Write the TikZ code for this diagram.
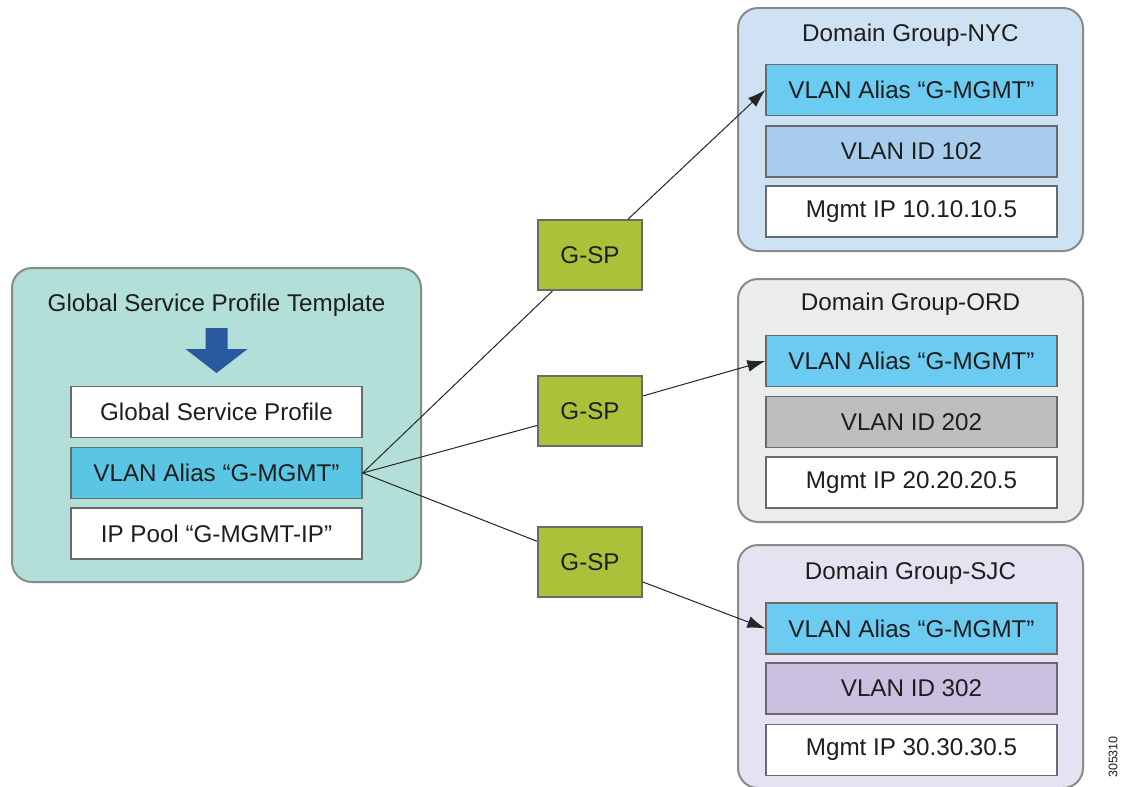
\documentclass[tikz,border=0pt]{standalone}
\usepackage{fontspec}
\setmainfont{Liberation Sans}
\usetikzlibrary{arrows.meta}
\definecolor{txt}{HTML}{1E1E1E}
\definecolor{leftbg}{HTML}{B2DFD7}
\definecolor{aliasL}{HTML}{5BC6E4}
\definecolor{aliasR}{HTML}{6CCBF1}
\definecolor{nycbg}{HTML}{CFE2F3}
\definecolor{nycid}{HTML}{A8CDEC}
\definecolor{ordbg}{HTML}{EBECEC}
\definecolor{ordid}{HTML}{BEBEBE}
\definecolor{sjcbg}{HTML}{E7E2F1}
\definecolor{sjcid}{HTML}{CAC1E1}
\definecolor{gsp}{HTML}{A9C23A}
\definecolor{darrow}{HTML}{2A5A9E}
\definecolor{bord}{HTML}{8A8A8A}
\definecolor{ibord}{HTML}{6A6A6A}
\tikzset{
  bigbox/.style={draw=bord, line width=2pt, rounded corners=20pt, inner sep=0pt},
  inbox/.style={draw=ibord, line width=1.3pt, minimum width=291pt, minimum height=51pt, inner sep=0pt, font=\fontsize{24.2}{27}\selectfont, text=txt},
  gspbox/.style={draw=ibord, line width=1.3pt, fill=gsp, minimum width=104pt, minimum height=70pt, inner sep=0pt, font=\fontsize{24.2}{27}\selectfont, text=txt},
  ttl/.style={font=\fontsize{24.2}{27}\selectfont, text=txt, inner sep=0pt},
  conn/.style={draw=black!85, line width=1pt},
  arr/.style={conn, -{Latex[length=18pt,width=12pt]}}
}
\begin{document}
\begin{tikzpicture}[x=1pt,y=-1pt]
\useasboundingbox (0,0) rectangle (1138,787);
\fill[white] (0,0) rectangle (1138,787);
% left group
\node[bigbox, fill=leftbg, minimum width=409pt, minimum height=314pt] (left) at (216.5,425) {};
\node[ttl] (lt) at (216.5,305) {Global Service Profile Template};
\fill[darrow] (205.5,328) -- (227.5,328) -- (227.5,349) -- (247.5,349) -- (216.5,373) -- (185.5,349) -- (205.5,349) -- cycle;
\node[inbox, fill=white] (gsp) at (216.5,412) {Global Service Profile};
\node[inbox, fill=aliasL] (va) at (216.5,473) {VLAN Alias “G-MGMT”};
\node[inbox, fill=white] (ip) at (216.5,533.5) {IP Pool “G-MGMT-IP”};
% NYC
\node[bigbox, fill=nycbg, minimum width=345pt, minimum height=243pt] (nyc) at (910.5,129.5) {};
\node[ttl] (nyct) at (910.5,35) {Domain Group-NYC};
\node[inbox, fill=aliasR] (nyca) at (911.5,90) {VLAN Alias “G-MGMT”};
\node[inbox, fill=nycid] (nyci) at (911.5,151.5) {VLAN ID 102};
\node[inbox, fill=white] (nycm) at (911.5,211.5) {Mgmt IP 10.10.10.5};
% ORD
\node[bigbox, fill=ordbg, minimum width=345pt, minimum height=243pt] (ord) at (910.5,400.5) {};
\node[ttl] (ordt) at (910.5,304) {Domain Group-ORD};
\node[inbox, fill=aliasR] (orda) at (911.5,361) {VLAN Alias “G-MGMT”};
\node[inbox, fill=ordid] (ordi) at (911.5,422) {VLAN ID 202};
\node[inbox, fill=white] (ordm) at (911.5,482.5) {Mgmt IP 20.20.20.5};
% SJC
\node[bigbox, fill=sjcbg, minimum width=345pt, minimum height=243pt] (sjc) at (910.5,666.5) {};
\node[ttl] (sjct) at (910.5,573) {Domain Group-SJC};
\node[inbox, fill=aliasR] (sjca) at (911.5,628.5) {VLAN Alias “G-MGMT”};
\node[inbox, fill=sjcid] (sjci) at (911.5,688.5) {VLAN ID 302};
\node[inbox, fill=white] (sjcm) at (911.5,750) {Mgmt IP 30.30.30.5};
% connectors
\coordinate (src) at (va.east);
\draw[conn] (src) -- (590,255);
\draw[conn] (src) -- (590,411);
\draw[conn] (src) -- (590,562);
\node[gspbox] (g1) at (590,255) {G-SP};
\node[gspbox] (g2) at (590,411) {G-SP};
\node[gspbox] (g3) at (590,562) {G-SP};
\draw[arr] (g1) -- (nyca.west);
\draw[arr] (g2) -- (orda.west);
\draw[arr] (g3) -- (sjca.west);
% figure number
\node[rotate=90, font=\fontsize{12.5}{13}\selectfont, text=txt, inner sep=0pt] (fig) at (1113,757) {305310};
\end{tikzpicture}
\end{document}
